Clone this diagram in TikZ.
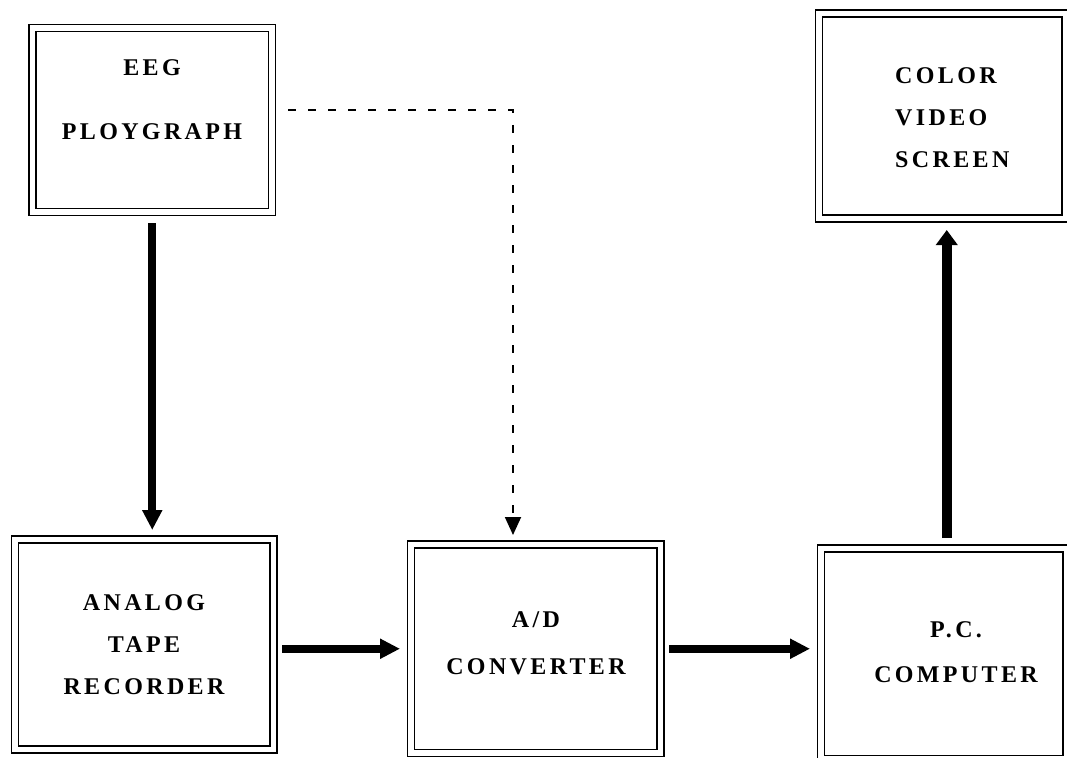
\documentclass[tikz,border=0pt]{standalone}
\usepackage{fontspec}
\newfontfamily\boxfont{Liberation Serif}[LetterSpace=14]
\usetikzlibrary{arrows.meta}
\begin{document}
\begin{tikzpicture}[x=1pt,y=-1pt,
  box/.style={draw=black, double, line width=1.8pt, double distance=5.2pt,
    rectangle, inner sep=0pt, outer sep=0pt},
  lbl/.style={inner sep=0pt, font=\boxfont\bfseries\fontsize{24}{42}\selectfont},
  bigarrow/.style={line width=8pt, -{Triangle[width=19pt,length=20pt]}},
  upparrow/.style={line width=10pt, -{Triangle[width=21pt,length=15pt]}},
  dasharrow/.style={line width=1.8pt, dash pattern=on 8pt off 12pt,
    -{Triangle[width=16pt,length=18pt]}}]
\useasboundingbox (0,0) rectangle (1067,757);

% boxes
\node[box, minimum width=239.5pt, minimum height=184pt] (EEG) at (152.25,120) {};
\node[box, minimum width=258.5pt, minimum height=210pt] (ANALOG) at (144.25,644.5) {};
\node[box, minimum width=249.5pt, minimum height=208.5pt] (AD) at (535.75,648.75) {};
\node[box, minimum width=245.5pt, minimum height=210.5pt] (PC) at (943.75,653.75) {};
\node[box, minimum width=246.5pt, minimum height=205pt] (VID) at (942.25,116) {};

% texts
\node[lbl, align=center] (EEGt) at (152,100) {EEG\\[22pt]PLOYGRAPH};
\node[lbl, align=center] (ANALOGt) at (144,645) {ANALOG\\TAPE\\RECORDER};
\node[lbl, align=center] (ADt) at (536,643.5) {A/D\\[5pt]CONVERTER};
\node[lbl, align=center] (PCt) at (956,652) {P.C.\\[3pt]COMPUTER};
\node[lbl, align=left, anchor=west] (VIDt) at (895,118) {COLOR\\VIDEO\\SCREEN};

% connectors
\draw[bigarrow] ([yshift=-11pt]EEG.south) -- ([yshift=9.5pt]EEG.south |- ANALOG.north);
\draw[bigarrow] ([xshift=8.5pt]ANALOG.east |- AD.west) -- ([xshift=-11pt]AD.west);
\draw[bigarrow] ([xshift=8.5pt]AD.east) -- ([xshift=-11pt]AD.east -| PC.west);
\draw[upparrow] ([xshift=3pt,yshift=10.5pt]PC.north) -- ([xshift=3pt,yshift=-11.5pt]PC.north |- VID.south);
\coordinate (dcorner) at (513,110);
\draw[dasharrow] ([xshift=16pt]EEG.east |- dcorner) -- (dcorner) -- ([yshift=9.5pt]dcorner |- AD.north);
\end{tikzpicture}
\end{document}
